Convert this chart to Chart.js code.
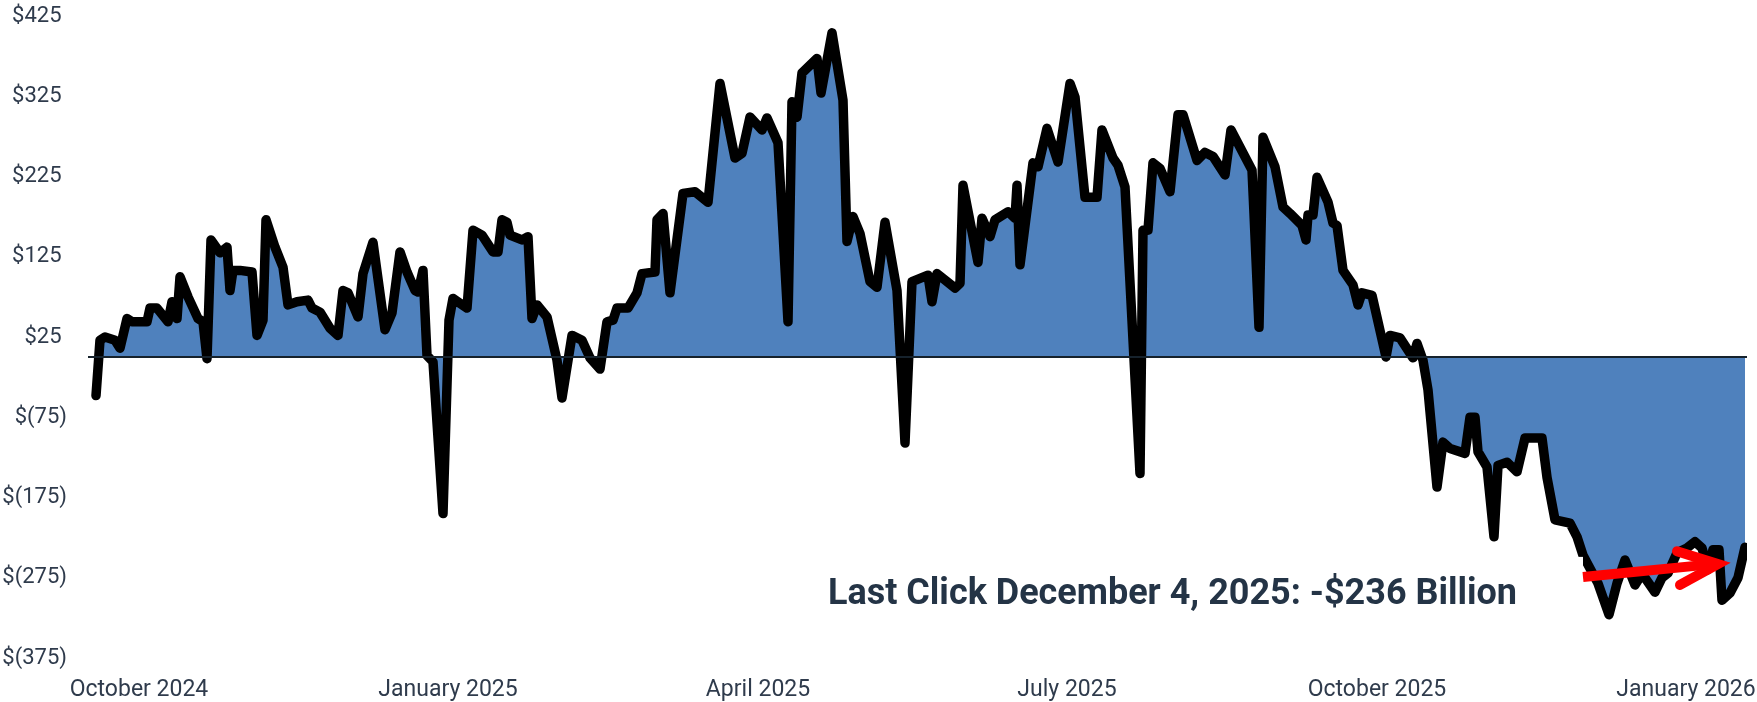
<!DOCTYPE html>
<html><head><meta charset="utf-8">
<style>html,body{margin:0;padding:0;background:#fff;}#wrap{width:1757px;height:702px;}</style>
<script src="https://cdn.jsdelivr.net/npm/chart.js@4.4.1/dist/chart.umd.min.js"></script>
</head><body><div id="wrap"><canvas id="c" width="1757" height="702"></canvas></div>
<script>
// trading-day position (x) and net value in $ billions (y)
const days = [0,0.8,1.8,3.8,4.8,6.2,7.2,10.2,10.8,12.2,14.4,15.2,16.2,16.8,18.4,20.4,21.4,22.2,23,24.8,26.2,26.8,27.4,28.8,31.2,32.2,33.4,34,35.8,37.4,38.4,40.2,42.4,43.2,44.8,46.8,48.4,49.4,50.4,52.4,53.4,55.4,57.8,59.2,60.8,62.2,63.8,64.4,65.4,66.2,67.4,69.4,70.6,71.4,74.2,75.4,77.2,79.4,80.4,81.2,82.2,82.8,85.2,86.4,87.2,88.2,90.2,92.2,93.2,95.2,97.2,98.8,100.8,102.2,103.4,104.2,106.4,108.2,109.2,111.8,112.2,113.4,114.8,117.4,119.8,122.4,124.8,127.8,129.2,130.8,133.2,134.2,136.4,138.4,139.2,140.2,141.2,144.2,145,147.2,149.4,150.2,151.4,152.8,154.8,156.2,157.8,160.2,161.8,163.2,166.4,167.2,168.2,171.8,172.8,173.4,176.4,177.2,178.8,179.8,182.4,183.8,184.2,184.8,187.4,188.4,190.2,192.4,194.8,195.8,197.8,200.2,201.2,203.4,204.4,205.8,208.8,209.4,210.4,211.4,212.8,214.8,216.4,217.4,220.2,221.8,223.4,225.8,227,
  231.2,231.6,232.6,233.4,235.8,237.4,238.8,241.2,242,242.4,243.4,244.2,246.4,247.4,248.2,249.4,251.4,252.4,253.2,255.2,258,258.8,260.8,263.4,264.2,265.4,266.4,268.2,269.4,270.8,273.8,274.8,275.8,276.4,278.2,279.6,280.4,282.2,284.2,285.8,289.2,290.2,291.8,294.8,296.2,297.4,300.4,302.6,304.2,305.8,307.8,308.8,309.8,311.8,313.2,314.4,316.2,318.2,319.8,321.2,322.4,323.4,324.6,325.2,326.8,328.4,329.8];
const values = [-48,21,25,21,11,48,44,44,61,61,44,69,48,100,75,48,44,-2,146,130,137,83,108,108,106,27,46,171,137,112,65,69,71,61,56,36,27,83,80,50,104,143,34,55,131,106,83,81,108,2,-6,-195,46,73,61,158,152,131,131,171,168,152,146,150,48,65,50,-4,-51,27,21,-1,-15,44,46,61,61,80,104,106,171,179,80,204,206,193,341,248,254,299,283,298,267,44,318,299,354,372,329,404,320,144,175,154,94,87,168,83,-107,94,102,69,104,86,92,214,118,173,150,171,181,173,214,115,242,237,285,243,341,324,199,199,283,248,239,212,-145,158,158,242,235,206,302,302,245,255,250,227,283,
  233,179,37,274,237,187,179,164,146,177,177,224,193,167,164,108,90,65,80,77,0,27,24,-1,17,-4,-41,-162,-106,-114,-120,-75,-75,-118,-137,-224,-135,-131,-143,-101,-101,-150,-203,-207,-224,-247,-282,-321,-282,-253,-284,-274,-275,-293,-275,-269,-244,-238,-230,-238,-265,-240,-240,-303,-294,-275,-237];
const tickLabels = ['October 2024','January 2025','April 2025','July 2025','October 2025','January 2026'];
const tickDays = [8.6,70.4,132.4,194.2,256.2,318];
const yTicks = [-375,-275,-175,-75,25,125,225,325,425];
const noteText = 'Last Click December 4, 2025: -$236 Billion';
const noteAt = [146.4,-308];      // text anchor (day, value)
const boxTo = [297.4,-249];       // white box right/top corner (day, value)
const arrowTail = [297.4,-274];
const arrowTip = [324.4,-258];
const arrowArmA = [316.2,-242];
const arrowArmB = [316.8,-284];

const TXT = '#2f3b4c';
const overlay = {
  id:'overlay',
  afterDatasetsDraw(chart){
    const {ctx, chartArea:a, scales:{x,y}} = chart;
    const P = p => [x.getPixelForValue(p[0]), y.getPixelForValue(p[1])];
    ctx.save();
    const y0 = y.getPixelForValue(0);
    ctx.strokeStyle = '#16222c'; ctx.lineWidth = 2;
    ctx.beginPath(); ctx.moveTo(a.left, y0); ctx.lineTo(a.right, y0); ctx.stroke();
    const [tx, ty] = P(noteAt);
    const [bx, by] = P(boxTo);
    ctx.fillStyle = '#fff';
    ctx.fillRect(tx - 14, by, bx - (tx - 14), 72);
    ctx.font = 'bold 37px Roboto';
    ctx.fillStyle = '#243446';
    ctx.textBaseline = 'alphabetic';
    ctx.textAlign = 'left';
    ctx.fillText(noteText, tx, ty, 689);
    const t0 = P(arrowTail), t1 = P(arrowTip), h1 = P(arrowArmA), h2 = P(arrowArmB);
    ctx.strokeStyle = '#ff0000'; ctx.lineWidth = 10; ctx.lineCap = 'butt';
    ctx.beginPath(); ctx.moveTo(t0[0], t0[1]); ctx.lineTo(t1[0]-5, t1[1]); ctx.stroke();
    ctx.lineWidth = 10; ctx.lineCap = 'round'; ctx.lineJoin = 'miter';
    ctx.beginPath(); ctx.moveTo(h1[0], h1[1]); ctx.lineTo(t1[0], t1[1]); ctx.lineTo(h2[0], h2[1]); ctx.stroke();
    ctx.restore();
  }
};

new Chart(document.getElementById('c'), {
  type:'line',
  data:{ datasets:[{
    data: days.map((d,i)=>({x:d, y:values[i]})),
    borderColor:'#000', borderWidth:9.5, backgroundColor:'#4f81bd',
    fill:'origin', pointRadius:0, tension:0,
    borderJoinStyle:'round', borderCapStyle:'round'
  }]},
  options:{
    responsive:false, animation:false, devicePixelRatio:1,
    layout:{padding:{left:0,right:10,top:16,bottom:0}},
    plugins:{legend:{display:false}, tooltip:{enabled:false}},
    scales:{
      x:{type:'linear', min:-1.6, max:330.2,
        afterBuildTicks:s=>{s.ticks = tickDays.map(v=>({value:v}));},
        afterFit:s=>{s.height = 44; s.paddingLeft = 0; s.paddingRight = 0;},
        grid:{display:false, drawTicks:false}, border:{display:false},
        ticks:{autoSkip:false, maxRotation:0, padding:18, color:TXT,
          font:{family:'Roboto', size:23},
          callback:(v,i)=>tickLabels[i]}},
      y:{min:-375, max:425,
        afterBuildTicks:s=>{s.ticks = yTicks.map(v=>({value:v}));},
        afterFit:s=>{s.width = 88; s.paddingTop = 0; s.paddingBottom = 0;},
        grid:{display:false, drawTicks:false}, border:{display:false},
        ticks:{padding:21, color:TXT, font:{family:'Roboto', size:22},
          callback:v=> v<0 ? '$('+(-v)+')' : '$'+v+' '}}
    }
  },
  plugins:[overlay]
});
</script></body></html>
